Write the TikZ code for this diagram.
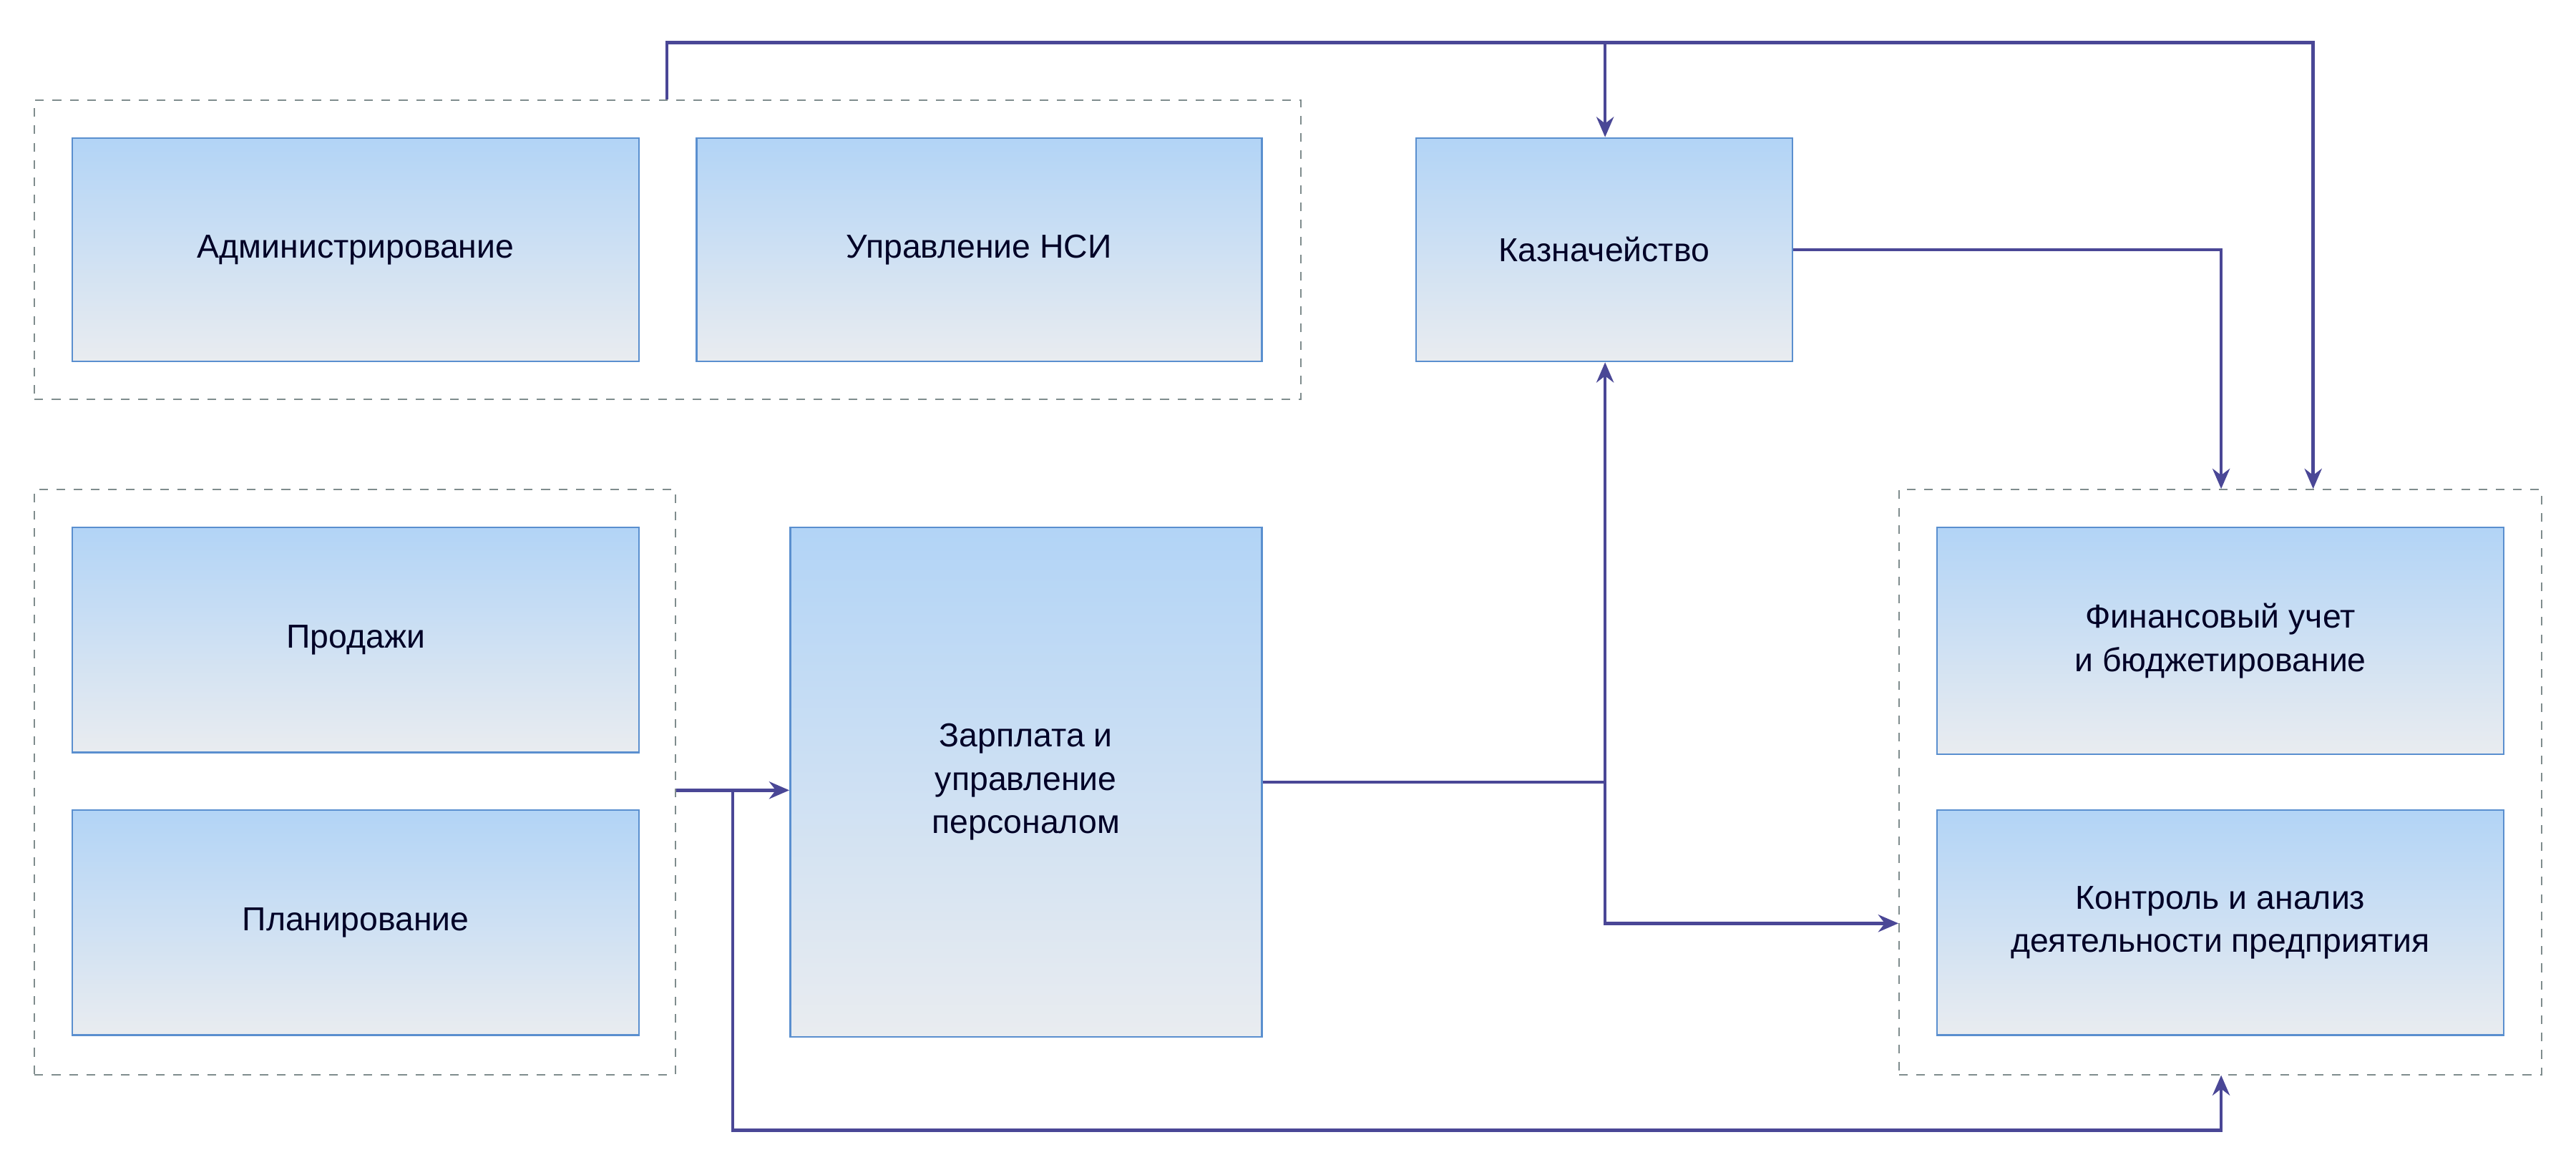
\documentclass[tikz,border=0pt]{standalone}
\usepackage{fontspec}
\setmainfont{Liberation Sans}
\usetikzlibrary{arrows.meta}
\definecolor{ln}{HTML}{4A4796}
\definecolor{bd}{HTML}{5A8FCF}
\definecolor{dsh}{HTML}{7F8C8D}
\begin{document}
\begin{tikzpicture}[x=0.02cm,y=-0.02cm,
 box/.style={draw=bd,line width=0.6pt,top color=blue!25!cyan!20!white!95!blue,top color={rgb,255:red,178;green,212;blue,246},bottom color={rgb,255:red,233;green,236;blue,240},inner sep=0,align=center,font=\fontsize{11.5}{15}\selectfont,text=black!85!blue},
 grp/.style={draw=dsh,dashed,line width=0.5pt,inner sep=0},
 con/.style={draw=ln,line width=1.1pt},
 arr/.style={con,-{Stealth[length=7pt,width=6pt]}}]
\useasboundingbox (0,0) rectangle (1568,715);
\newcommand{\bx}[6]{\node[#6,minimum width={(#4-#2)*0.02cm},minimum height={(#5-#3)*0.02cm}] (#1) at ({(#2+#4)/2},{(#3+#5)/2}) {#6};}
\newcommand{\mybox}[6]{\node[box,minimum width={(#4-#2)*0.02cm},minimum height={(#5-#3)*0.02cm}] (#1) at ({(#2+#4)/2},{(#3+#5)/2}) {#6};}
\newcommand{\mygrp}[5]{\node[grp,minimum width={(#4-#2)*0.02cm},minimum height={(#5-#3)*0.02cm}] (#1) at ({(#2+#4)/2},{(#3+#5)/2}) {};}
\mygrp{g1}{21}{61}{792}{243}
\mygrp{g2}{21}{298}{411}{654}
\mygrp{g3}{1156}{298}{1547}{654}
\mybox{adm}{44}{84}{389}{220}{Администрирование}
\mybox{nsi}{424}{84}{768}{220}{Управление НСИ}
\mybox{kaz}{862}{84}{1091}{220}{Казначейство}
\mybox{prod}{44}{321}{389}{458}{Продажи}
\mybox{plan}{44}{493}{389}{630}{Планирование}
\mybox{zp}{481}{321}{768}{631}{Зарплата и\\управление\\персоналом}
\mybox{fin}{1179}{321}{1524}{459}{Финансовый учет\\и бюджетирование}
\mybox{ctl}{1179}{493}{1524}{630}{Контроль и анализ\\деятельности предприятия}
\coordinate (t1) at (406,26);
\coordinate (t2) at (977,26);
\coordinate (t3) at (1408,26);
\coordinate (j1) at (446,481);
\coordinate (j2) at (977,476);
\draw[arr] (g1.north -| t1) -- (t1) -- (t3) -- (g3.north -| t3);
\draw[arr] (t2) -- (kaz.north -| t2);
\draw[arr] (kaz.east) -- (kaz.east -| 1352,0) -- (g3.north -| 1352,0);
\draw[arr] (g2.east |- j1) -- (zp.west |- j1);
\draw[arr] (j1) -- (446,688) -- (1352,688) -- (g3.south -| 1352,0);
\draw[con] (zp.east |- j2) -- (j2);
\draw[arr] (j2) -- (kaz.south -| j2);
\draw[arr] (j2) -- (977,562) -- (g3.west |- 0,562);
\end{tikzpicture}
\end{document}
